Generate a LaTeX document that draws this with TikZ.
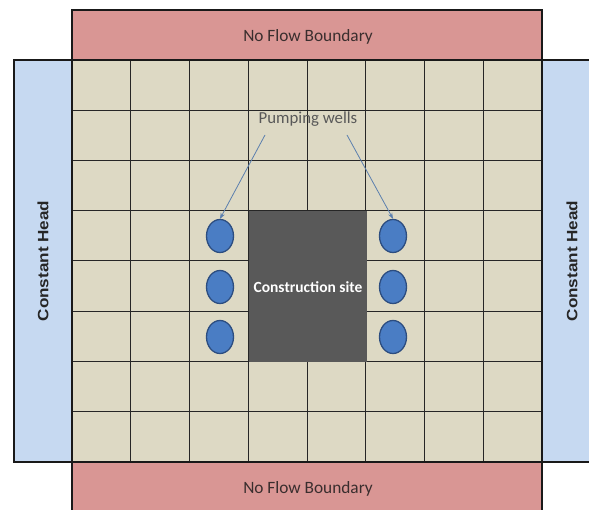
\documentclass[tikz,border=0pt]{standalone}
\usepackage{fontspec}
\setmainfont{Carlito}
\newfontfamily\headfont{Liberation Sans}
\usetikzlibrary{arrows.meta,shapes.geometric}
\definecolor{bndred}{HTML}{D99694}
\definecolor{bndblue}{HTML}{C6D9F1}
\definecolor{soil}{HTML}{DDD9C4}
\definecolor{site}{HTML}{595959}
\definecolor{wellfill}{HTML}{4A7DC4}
\definecolor{welledge}{HTML}{2C4D80}
\definecolor{callout}{HTML}{5B7FAE}
\definecolor{labeltext}{HTML}{3A2E2E}
\tikzset{
  zone/.style={draw=black!90, line width=1.3pt},
  gridline/.style={draw=black!85, line width=1pt},
  well/.style={ellipse, draw=welledge, line width=1.3pt, fill=wellfill,
    minimum width=27pt, minimum height=33pt, inner sep=0pt},
  wellarrow/.style={draw=callout, line width=0.8pt,
    -{Stealth[length=6pt,width=4.5pt]}},
  bndlabel/.style={font=\fontsize{17.3}{19}\selectfont, text=labeltext},
  headlabel/.style={font=\headfont\bfseries\fontsize{15}{17}\selectfont,
    text=black!85, rotate=90, xscale=1.14},
}
\begin{document}
\begin{tikzpicture}[x=1pt, y=-1pt]
  \useasboundingbox (0,0) rectangle (589,510);
  \begin{scope}
    \clip (0,0) rectangle (589,510);
    % no-flow strips, top and bottom
    \fill[bndred] (72,10) rectangle (542,60);
    \fill[bndred] (72,462) rectangle (542,520);
    % constant-head strips, left and right
    \fill[bndblue] (14,60) rectangle (72,462);
    \fill[bndblue] (542,60) rectangle (600,462);
    % aquifer cells
    \fill[soil] (72,60) rectangle (542,462);
    \foreach \i in {1,...,7} {
      \draw[gridline] ({72+\i*58.75},60) -- ({72+\i*58.75},462);
      \draw[gridline] (72,{60+\i*50.25}) -- (542,{60+\i*50.25});
    }
    % outlines
    \draw[zone] (72,60) -- (72,10) -- (542,10) -- (542,60);
    \draw[zone] (72,520) -- (72,462) -- (542,462) -- (542,520);
    \draw[zone] (72,60) -- (14,60) -- (14,462) -- (72,462);
    \draw[zone] (600,60) -- (542,60) -- (542,462) -- (600,462);
    \draw[zone] (72,60) rectangle (542,462);
  \end{scope}

  % construction site
  \node[fill=site, minimum width=118pt, minimum height=151pt, inner sep=0pt,
        anchor=north west] (site) at (249,211) {};
  \node[font=\bfseries\fontsize{15.5}{17}\selectfont, text=white] (sitelbl)
        at (308,287) {Construction site};

  % pumping wells
  \foreach \n/\y in {1/236,2/287,3/337} {
    \node[well] (wl\n) at (220,\y) {};
    \node[well] (wr\n) at (393,\y) {};
  }

  % boundary labels
  \node[bndlabel] (nftop) at (308,37) {No Flow Boundary};
  \node[bndlabel] (nfbot) at (308,489) {No Flow Boundary};
  \node[headlabel] (chl) at (43,261) {Constant Head};
  \node[headlabel] (chr) at (572,261) {Constant Head};

  % callout
  \node[font=\fontsize{16.8}{18}\selectfont, text=black!65] (pw) at (308,119) {Pumping wells};
  \coordinate (pwl) at (265,135);
  \coordinate (pwr) at (347,135);
  \draw[wellarrow] (pwl) -- (wl1.north);
  \draw[wellarrow] (pwr) -- (wr1.north);
\end{tikzpicture}
\end{document}
